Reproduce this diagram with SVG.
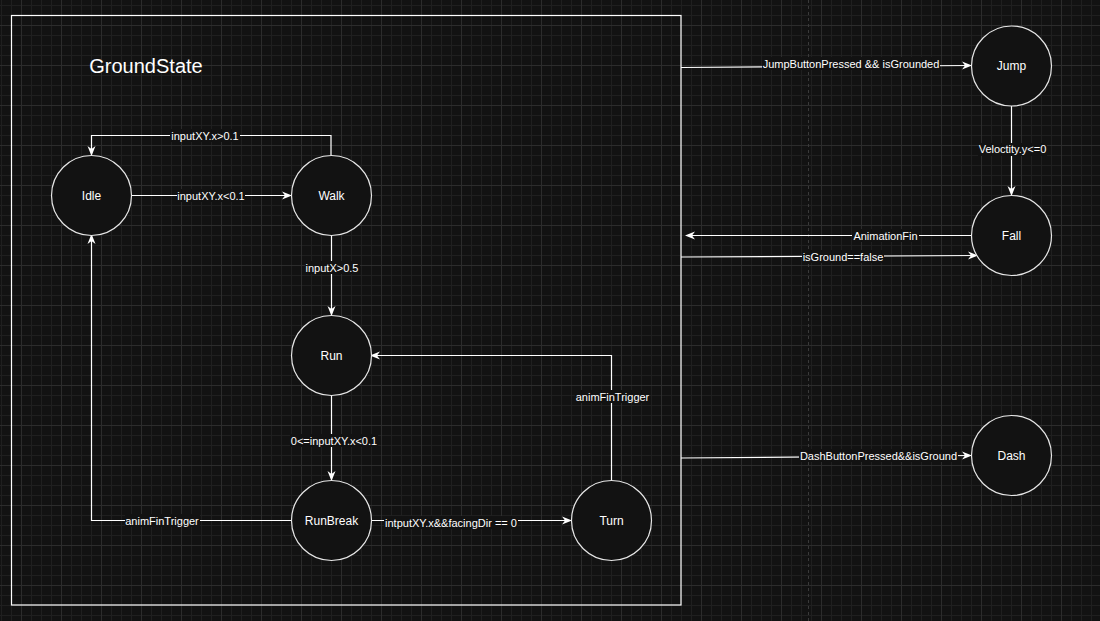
<svg xmlns="http://www.w3.org/2000/svg" width="1100" height="621" viewBox="0 0 1100 621">
<defs>
<pattern id="minor" width="10" height="10" patternUnits="userSpaceOnUse" x="1" y="5">
<rect x="0" y="0" width="1" height="10" fill="#1f1f1f"/>
<rect x="0" y="0" width="10" height="1" fill="#1f1f1f"/>
</pattern>
<pattern id="major" width="40" height="40" patternUnits="userSpaceOnUse" x="21" y="25">
<rect x="0" y="0" width="1" height="40" fill="#2c2c2c"/>
<rect x="0" y="0" width="40" height="1" fill="#2c2c2c"/>
</pattern>
<marker id="arr" viewBox="0 0 10 10" refX="9" refY="5" markerWidth="10" markerHeight="10" markerUnits="userSpaceOnUse" orient="auto">
<path d="M0,1 L10,5 L0,9 L3,5 z" fill="#ffffff"/>
</marker>
<style>
.edge{fill:none;stroke:#ffffff;stroke-width:1.2;}
.arrowed{marker-end:url(#arr);}
.node circle{fill:#121212;stroke:#e6e6e6;stroke-width:1.2;}
.node text{fill:#ffffff;font-family:"Liberation Sans",Arial,sans-serif;font-size:12px;text-anchor:middle;}
.lbl rect{fill:#121212;}
.lbl text{fill:#ffffff;font-family:"Liberation Sans",Arial,sans-serif;font-size:11px;text-anchor:middle;}
</style>
</defs>
<rect x="0" y="0" width="1100" height="621" fill="#121212"/>
<rect x="0" y="0" width="1100" height="621" fill="url(#minor)"/>
<rect x="0" y="0" width="1100" height="621" fill="url(#major)"/>
<line x1="808.5" y1="0" x2="808.5" y2="621" stroke="#3a3a3a" stroke-width="1" stroke-dasharray="3,3"/>

<g id="GroundState">
<rect x="11.5" y="15.5" width="669.5" height="589.5" fill="none" stroke="#ffffff" stroke-width="1.2"/>
<text x="146" y="73" fill="#ffffff" font-family="Liberation Sans, Arial, sans-serif" font-size="20" text-anchor="middle">GroundState</text>
</g>

<g id="connectors">
<polyline class="edge arrowed" points="331,155 331,135.5 91.5,135.5 91.5,155"/>
<line class="edge arrowed" x1="131" y1="195.5" x2="291" y2="195.5"/>
<line class="edge arrowed" x1="331.5" y1="235" x2="331.5" y2="315"/>
<line class="edge arrowed" x1="331.5" y1="395" x2="331.5" y2="480"/>
<polyline class="edge arrowed" points="291,520.5 91.5,520.5 91.5,235"/>
<line class="edge arrowed" x1="371" y1="520.5" x2="571" y2="520.5"/>
<polyline class="edge arrowed" points="611.5,480 611.5,355.5 371,355.5"/>
<line class="edge arrowed" x1="681" y1="67.5" x2="971" y2="65.5"/>
<line class="edge arrowed" x1="1011.5" y1="106" x2="1011.5" y2="195"/>
<line class="edge arrowed" x1="971" y1="235.5" x2="686" y2="235.5"/>
<line class="edge arrowed" x1="681" y1="257" x2="977" y2="255.5"/>
<line class="edge arrowed" x1="681" y1="458" x2="971" y2="455.5"/>
<g class="lbl">
<rect x="170" y="129" width="70" height="13"/><text x="205" y="139.5">inputXY.x&gt;0.1</text>
<rect x="177" y="189" width="68" height="13"/><text x="211" y="199.5">inputXY.x&lt;0.1</text>
<rect x="305" y="261" width="55" height="13"/><text x="332" y="272">inputX&gt;0.5</text>
<rect x="290" y="434" width="88" height="13"/><text x="334" y="445">0&lt;=inputXY.x&lt;0.1</text>
<rect x="125" y="514" width="75" height="13"/><text x="162" y="524.5">animFinTrigger</text>
<rect x="384" y="516" width="134" height="13"/><text x="451" y="527">intputXY.x&amp;&amp;facingDir == 0</text>
<rect x="575" y="390" width="75" height="13"/><text x="612.5" y="401">animFinTrigger</text>
<rect x="762" y="57" width="178" height="13"/><text x="851" y="67.5">JumpButtonPressed &amp;&amp; isGrounded</text>
<rect x="978" y="143" width="69" height="13"/><text x="1012.5" y="153">Veloctity.y&lt;=0</text>
<rect x="852" y="229" width="67" height="13"/><text x="885.5" y="239.5">AnimationFin</text>
<rect x="802" y="250" width="82" height="13"/><text x="843" y="260.5">isGround==false</text>
<rect x="799" y="449" width="159" height="13"/><text x="878.5" y="459.5">DashButtonPressed&amp;&amp;isGround</text>
</g>
</g>

<g id="Idle" class="node"><circle cx="91.5" cy="195.5" r="40"/><text x="91.5" y="199.5">Idle</text></g>
<g id="Walk" class="node"><circle cx="331.5" cy="195.5" r="40"/><text x="331.5" y="199.5">Walk</text></g>
<g id="Run" class="node"><circle cx="331.5" cy="355.5" r="40"/><text x="331.5" y="359.5">Run</text></g>
<g id="RunBreak" class="node"><circle cx="331.5" cy="520.5" r="40"/><text x="331.5" y="524.5">RunBreak</text></g>
<g id="Turn" class="node"><circle cx="611.5" cy="520.5" r="40"/><text x="611.5" y="524.5">Turn</text></g>
<g id="Jump" class="node"><circle cx="1011.5" cy="66" r="40"/><text x="1011.5" y="70">Jump</text></g>
<g id="Fall" class="node"><circle cx="1011.5" cy="235.5" r="40"/><text x="1011.5" y="239.5">Fall</text></g>
<g id="Dash" class="node"><circle cx="1011.5" cy="455.5" r="40"/><text x="1011.5" y="459.5">Dash</text></g>
</svg>
